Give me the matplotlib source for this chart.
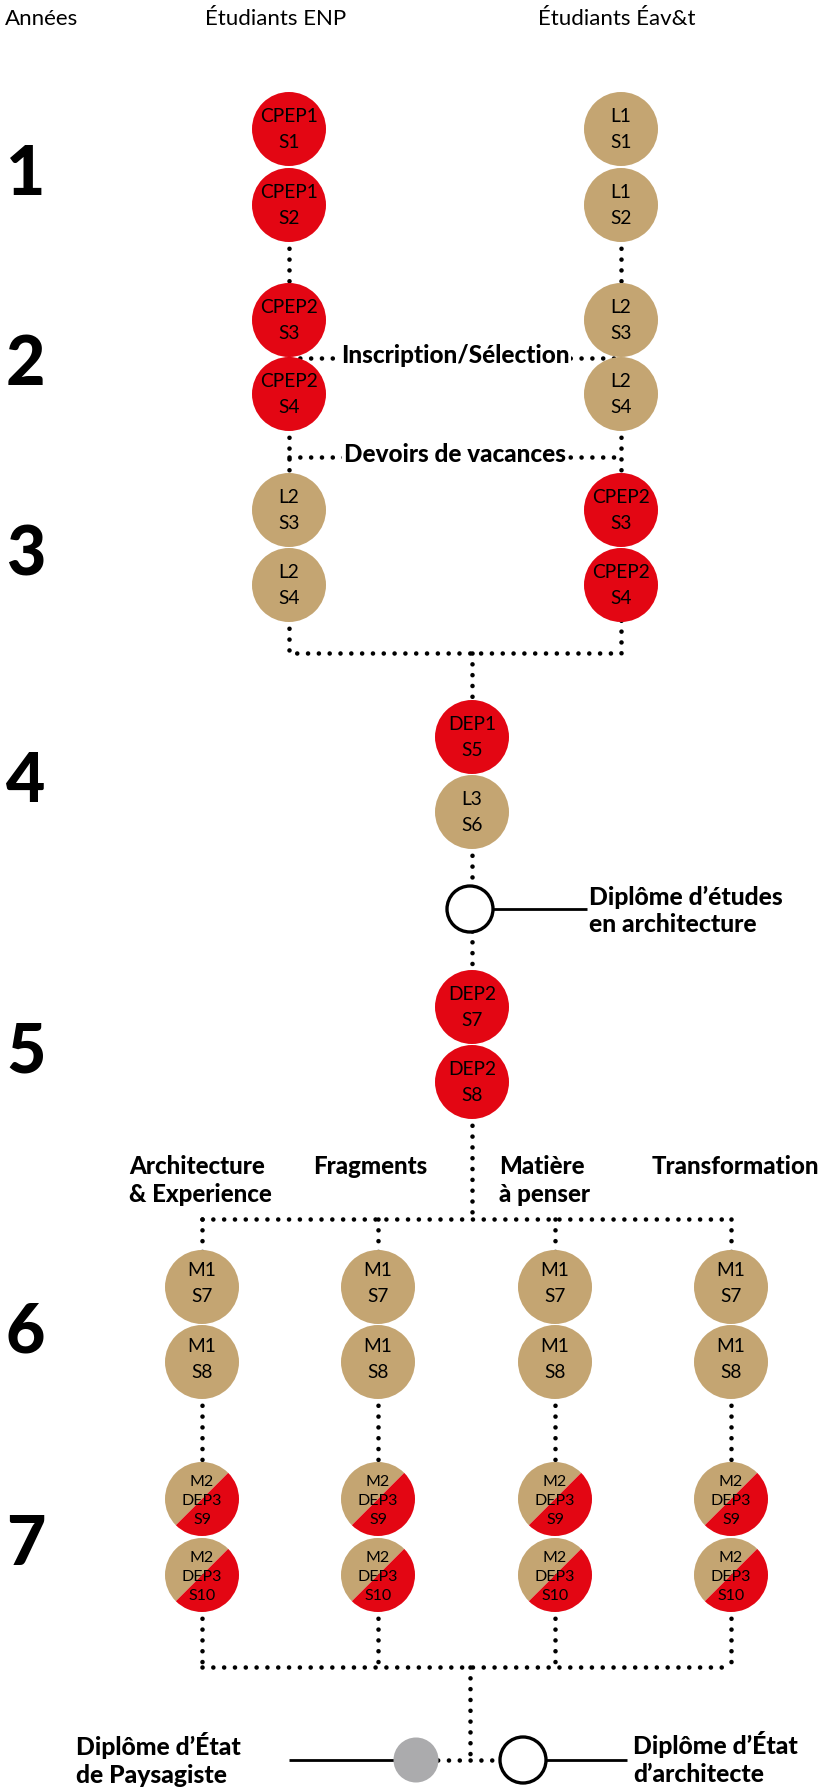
import matplotlib
matplotlib.use("Agg")
import matplotlib.pyplot as plt
from matplotlib.patches import Circle, Wedge

plt.rcParams['font.family'] = ['Lato', 'DejaVu Sans']

# ---------------- data ----------------
headers = ['Années', 'Étudiants ENP', 'Étudiants Éav&t']
years = ['1', '2', '3', '4', '5', '6', '7']

enp_labels = ['CPEP1\nS1', 'CPEP1\nS2', 'CPEP2\nS3', 'CPEP2\nS4', 'L2\nS3', 'L2\nS4']
enp_kinds = ['ecole', 'ecole', 'ecole', 'ecole', 'univ', 'univ']

eavt_labels = ['L1\nS1', 'L1\nS2', 'L2\nS3', 'L2\nS4', 'CPEP2\nS3', 'CPEP2\nS4']
eavt_kinds = ['univ', 'univ', 'univ', 'univ', 'ecole', 'ecole']

bridge_labels = ['Inscription/Sélection', 'Devoirs de vacances']

common_labels = ['DEP1\nS5', 'L3\nS6', 'DEP2\nS7', 'DEP2\nS8']
common_kinds = ['ecole', 'univ', 'ecole', 'ecole']

branches = ['Architecture\n& Experience', 'Fragments', 'Matière\nà penser', 'Transformation']
master_labels = ['M1\nS7', 'M1\nS8', 'M2\nDEP3\nS9', 'M2\nDEP3\nS10']
master_kinds = ['univ', 'univ', 'mixed', 'mixed']

diplomas = ['Diplôme d’études\nen architecture',
            'Diplôme d’État\nde Paysagiste',
            'Diplôme d’État\nd’architecte']

# ---------------- layout / style ----------------
RED = '#E30613'
TAN = '#C4A572'
GRAY = '#ABABAD'
R = 37
X_ENP, X_EAVT, X_MID = 289, 621, 472
X_BRANCH = [202, 378, 555, 731]
Y_TOP = [129, 205, 320, 394, 510, 585]
Y_COMMON = [737, 812, 1007, 1082]
Y_DIP1 = 909
Y_MASTER = [1287, 1362, 1499, 1575]
Y_JOIN1, Y_JOIN2, Y_JOIN3, Y_BOTTOM = 653, 1219, 1667, 1760
BOLD = 'black'

fig = plt.figure(figsize=(8.23, 17.89), dpi=100)
ax = fig.add_axes([0, 0, 1, 1])
ax.set_xlim(0, 823)
ax.set_ylim(1789, 0)
ax.axis('off')

DOT = dict(color='black', lw=3.3, linestyle=(0, (0.01, 2.35)),
           dash_capstyle='round', solid_capstyle='round', zorder=1)


def dotted(xs, ys):
    ax.plot(xs, ys, **DOT)


def solid(xs, ys):
    ax.plot(xs, ys, color='black', lw=2.0, zorder=1, solid_capstyle='butt')


def lines_text(x, baselines, text, size, weight='normal', ha='left', **kw):
    for b, line in zip(baselines, text.split('\n')):
        ax.text(x, b, line, fontsize=size, fontweight=weight, ha=ha,
                va='baseline', zorder=4, **kw)


def node(x, y, label, kind, upper=True):
    if kind == 'mixed':
        # y axis inverted: data angles 135..315 appear as the upper-left half
        ax.add_patch(Wedge((x, y), R, 135, 315, facecolor=TAN, edgecolor='none', zorder=2))
        ax.add_patch(Wedge((x, y), R, 315, 495, facecolor=RED, edgecolor='none', zorder=2))
    else:
        ax.add_patch(Circle((x, y), R, facecolor=RED if kind == 'ecole' else TAN,
                            edgecolor='none', zorder=2))
    n = label.count('\n') + 1
    if n == 3:
        offs, size = [-13, 6, 25], 11.5
    elif upper:
        offs, size = [-7, 19], 13.8
    else:
        offs, size = [-10.5, 15.5], 13.8
    lines_text(x, [y + o for o in offs], label, size, ha='center')


def open_ring(x, y):
    ax.add_patch(Circle((x, y), 23, facecolor='white', edgecolor='black', lw=2.4, zorder=3))


# headers
ax.text(5, 25, headers[0], fontsize=16, va='baseline', ha='left')
ax.text(205, 25, headers[1], fontsize=16, va='baseline', ha='left')
ax.text(538, 25, headers[2], fontsize=16, va='baseline', ha='left')

# year numbers
pair_mids = [(Y_TOP[0] + Y_TOP[1]) / 2, (Y_TOP[2] + Y_TOP[3]) / 2, (Y_TOP[4] + Y_TOP[5]) / 2,
             (Y_COMMON[0] + Y_COMMON[1]) / 2, (Y_COMMON[2] + Y_COMMON[3]) / 2,
             (Y_MASTER[0] + Y_MASTER[1]) / 2, (Y_MASTER[2] + Y_MASTER[3]) / 2]
for yr, m in zip(years, pair_mids):
    ax.text(6, m + 28, yr, fontsize=49, fontweight='black', va='baseline', ha='left')

# connectors - first three years
for xc in (X_ENP, X_EAVT):
    dotted([xc, xc], [Y_TOP[1], Y_TOP[2]])
    dotted([xc, xc], [Y_TOP[3], Y_TOP[4]])
y_ins = (Y_TOP[2] + Y_TOP[3]) / 2 + 0.5
y_dev = (Y_TOP[3] + Y_TOP[4]) / 2 + 5
dotted([X_ENP, X_EAVT], [y_ins, y_ins])
dotted([X_ENP, X_EAVT], [y_dev, y_dev])
for lab, yy in zip(bridge_labels, (y_ins, y_dev)):
    ax.text((X_ENP + X_EAVT) / 2, yy + 5.5, lab, fontsize=17.5, fontweight=BOLD,
            ha='center', va='baseline', zorder=4,
            bbox=dict(facecolor='white', edgecolor='none', pad=1.5))

dotted([X_ENP, X_ENP, X_EAVT, X_EAVT], [Y_TOP[5], Y_JOIN1, Y_JOIN1, Y_TOP[5]])
dotted([X_MID, X_MID], [Y_JOIN1, Y_COMMON[0]])
dotted([X_MID, X_MID], [Y_COMMON[1], Y_COMMON[2]])
dotted([X_MID, X_MID], [Y_COMMON[3], Y_JOIN2])

# branches
dotted([X_BRANCH[0], X_BRANCH[-1]], [Y_JOIN2, Y_JOIN2])
for xb in X_BRANCH:
    dotted([xb, xb], [Y_JOIN2, Y_MASTER[0]])
    dotted([xb, xb], [Y_MASTER[1], Y_MASTER[2]])
    dotted([xb, xb], [Y_MASTER[3], Y_JOIN3])
dotted([X_BRANCH[0], X_BRANCH[-1]], [Y_JOIN3, Y_JOIN3])
dotted([X_MID - 2, X_MID - 2], [Y_JOIN3, Y_BOTTOM])
dotted([416, 523], [Y_BOTTOM, Y_BOTTOM])

# nodes
for lab, k, y in zip(enp_labels, enp_kinds, Y_TOP):
    node(X_ENP, y, lab, k)
for lab, k, y in zip(eavt_labels, eavt_kinds, Y_TOP):
    node(X_EAVT, y, lab, k)
for lab, k, y in zip(common_labels, common_kinds, Y_COMMON):
    node(X_MID, y, lab, k)
for xb in X_BRANCH:
    for lab, k, y in zip(master_labels, master_kinds, Y_MASTER):
        node(xb, y, lab, k, upper=False)

# branch titles
branch_x = [129, 313, 499, 652]
for bx, b in zip(branch_x, branches):
    lines_text(bx, [1174, 1202], b, 17.3, weight=BOLD)

# diplomas
open_ring(X_MID - 2, Y_DIP1)
solid([X_MID - 2 + 23, 587], [Y_DIP1, Y_DIP1])
lines_text(589, [905, 932], diplomas[0], 17.8, weight=BOLD)

ax.add_patch(Circle((416, Y_BOTTOM), 22.5, facecolor=GRAY, edgecolor='none', zorder=3))
solid([289, 394], [Y_BOTTOM, Y_BOTTOM])
lines_text(76, [1755, 1783], diplomas[1], 17.8, weight=BOLD)

open_ring(523, Y_BOTTOM)
solid([546, 627], [Y_BOTTOM, Y_BOTTOM])
lines_text(633, [1754, 1782], diplomas[2], 17.8, weight=BOLD)

fig.savefig('out.png', dpi=100, facecolor='white')
